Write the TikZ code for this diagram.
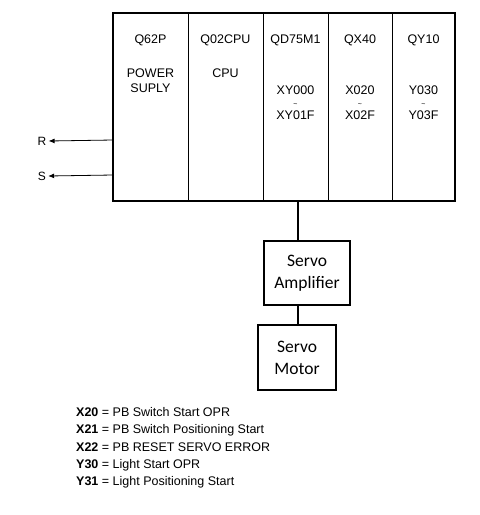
\documentclass[tikz,border=0pt]{standalone}
\usepackage{fontspec}
\setmainfont{Liberation Sans}
\newfontfamily\calib{Carlito}
\usetikzlibrary{arrows.meta}
\begin{document}
\begin{tikzpicture}[x=1pt,y=-1pt,
  mod/.style={font=\fontsize{12.5}{15}\selectfont, align=center, anchor=north},
  srv/.style={draw, line width=2.2pt, font=\calib\fontsize{17.5}{22}\selectfont, align=center, inner sep=0pt},
  leg/.style={font=\fontsize{12.5}{14}\selectfont, anchor=west, inner sep=0pt},
  sig/.style={-{Latex[length=6pt,width=5pt]}, line width=0.8pt}]
\useasboundingbox (0,0) rectangle (480,515);
% main rack
\node[draw, line width=2.2pt, minimum width=342pt, minimum height=188pt, inner sep=0pt] (rack) at (284,107) {};
\foreach \xx in {188,263,328,392} \draw[line width=1pt] (\xx,13) -- (\xx,201);
% module texts
\node[mod] (m1) at (150.5,31) {Q62P};
\node[mod] (m1b) at (150.5,65) {POWER\\SUPLY};
\node[mod] (m2) at (225.5,31) {Q02CPU};
\node[mod] (m2b) at (225.5,65) {CPU};
\node[mod] (m3) at (295.5,31) {QD75M1};
\node[mod] (m3b) at (295.5,82) {XY000\\[-3pt]\scriptsize\textasciitilde\\[-2pt]XY01F};
\node[mod] (m4) at (360,31) {QX40};
\node[mod] (m4b) at (360,82) {X020\\[-3pt]\scriptsize\textasciitilde\\[-2pt]X02F};
\node[mod] (m5) at (423.5,31) {QY10};
\node[mod] (m5b) at (423.5,82) {Y030\\[-3pt]\scriptsize\textasciitilde\\[-2pt]Y03F};
% R and S
\node[font=\fontsize{12}{14}\selectfont, inner sep=0pt] (R) at (42,141) {R};
\node[font=\fontsize{12}{14}\selectfont, inner sep=0pt] (S) at (42,176) {S};
\coordinate (rr) at (113,140);
\coordinate (ss) at (113,175);
\draw[sig] (rr) -- ([xshift=2pt]R.east);
\draw[sig] (ss) -- ([xshift=2pt]S.east);
% servo
\node[srv, minimum width=86pt, minimum height=64pt] (amp) at (307,273) {Servo\\Amplifier};
\node[srv, minimum width=78pt, minimum height=65pt] (mot) at (297,357.5) {Servo\\Motor};
\coordinate (rb) at (298,201);
\draw[line width=2.5pt] (rb) -- (rb |- amp.north);
\draw[line width=2.5pt] (298,305) -- (298,325);
% legend
\node[leg] (l1) at (76,412) {\textbf{X20} = PB Switch Start OPR};
\node[leg] (l2) at (76,430) {\textbf{X21} = PB Switch Positioning Start};
\node[leg] (l3) at (76,447) {\textbf{X22} = PB RESET SERVO ERROR};
\node[leg] (l4) at (76,465) {\textbf{Y30} = Light Start OPR};
\node[leg] (l5) at (76,482) {\textbf{Y31} = Light Positioning Start};
\end{tikzpicture}
\end{document}
